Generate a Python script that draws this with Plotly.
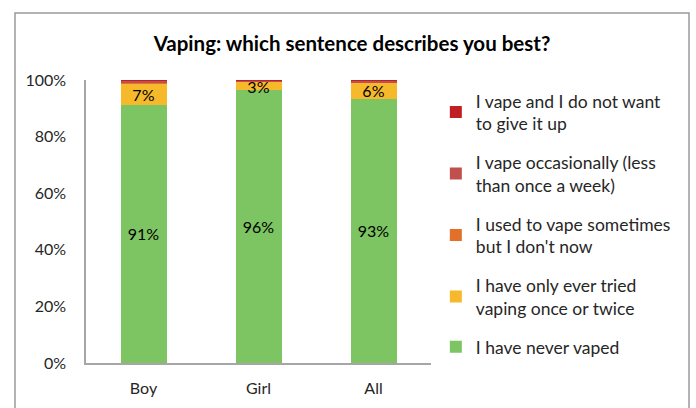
import plotly.graph_objects as go

categories = ["Boy", "Girl", "All"]
never = [91.2, 96.3, 93.4]
tried = [7.4, 3.0, 5.6]
used_to = [0.3, 0.2, 0.2]
occasional = [0.9, 0.3, 0.6]
vape_keep = [0.2, 0.2, 0.2]

series = [
    ("I have never vaped", never, "#7DC462", True),
    ("I have only ever tried<br>vaping once or twice", tried, "#F6B92B", True),
    ("I used to vape sometimes<br>but I don't now", used_to, "#E2702A", False),
    ("I vape occasionally (less<br>than once a week)", occasional, "#C0504D", False),
    ("I vape and I do not want<br>to give it up", vape_keep, "#BE2026", False),
]

FONT = "Lato"
fig = go.Figure()
n = len(series)
for i, (name, vals, color, lab) in enumerate(series):
    fig.add_trace(go.Bar(
        x=categories, y=vals, name=name, marker_color=color,
        marker_line_width=0,
        text=[f"{round(v)}%" for v in vals] if lab else None,
        textposition="inside" if lab else "none",
        insidetextanchor="middle",
        constraintext="none",
        textfont=dict(color="#000000", size=16, family=FONT),
        legendgroup=f"g{i}",
        legendrank=n - i,
        hoverinfo="skip",
    ))

fig.update_layout(
    barmode="stack",
    bargap=0.6,
    width=696, height=408,
    margin=dict(l=86, r=265, t=80, b=45),
    paper_bgcolor="white", plot_bgcolor="white",
    font=dict(family=FONT, size=16, color="#262626"),
    title=dict(text="<b>Vaping: which sentence describes you best?</b>",
               x=352 / 696, xanchor="center", y=1 - 44 / 408, yanchor="middle",
               font=dict(size=20.5, color="#000000", family=FONT)),
    legend=dict(
        x=1.014, xanchor="left", y=0.99, yanchor="top",
        traceorder="grouped", tracegroupgap=13,
        font=dict(size=17.5, color="#262626", family=FONT),
        itemwidth=30, bgcolor="rgba(0,0,0,0)",
        maxheight=1,
    ),
    showlegend=True,
)
fig.update_xaxes(showline=True, linecolor="#A6A6A6", linewidth=1.5,
                 ticks="", ticklabelstandoff=10,
                 tickfont=dict(size=16, color="#262626"))
fig.update_yaxes(range=[0, 100], tickvals=[0, 20, 40, 60, 80, 100],
                 ticktext=["0%", "20%", "40%", "60%", "80%", "100%"],
                 showgrid=False, zeroline=False, showline=True,
                 linecolor="#A6A6A6", linewidth=1.5, ticks="",
                 ticklabelstandoff=15,
                 tickfont=dict(size=16, color="#262626"))
fig.add_shape(type="rect", xref="paper", yref="paper",
              x0=(15 - 86) / 345, x1=(689 - 86) / 345,
              y0=(363 - 430) / 283, y1=(363 - 13) / 283,
              line=dict(color="#9A9A9A", width=1.5), fillcolor="rgba(0,0,0,0)",
              layer="below")
fig.write_html("out.html", config={"displayModeBar": False},
               post_script="document.body.style.margin='0';window.dispatchEvent(new Event('resize'));")
